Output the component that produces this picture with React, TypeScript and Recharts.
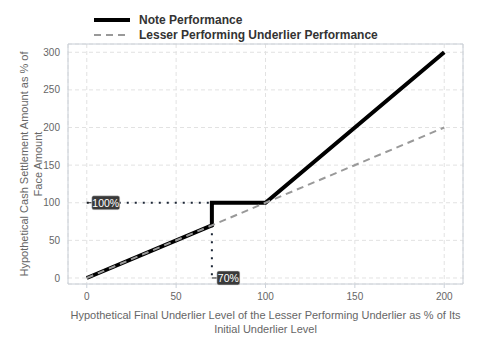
import React from "react";
import {
  LineChart,
  Line,
  XAxis,
  YAxis,
  CartesianGrid,
  ReferenceLine,
  ReferenceDot,
  ReferenceArea,
} from "recharts";

const noteX = [0, 70, 70, 100, 200];
const noteY = [0, 70, 100, 100, 300];
const lesserX = [0, 200];
const lesserY = [0, 200];
const xTicks = [0, 50, 100, 150, 200];
const yTicks = [0, 50, 100, 150, 200, 250, 300];
const barrier = 70;
const faceLevel = 100;
const seriesNames = ["Note Performance", "Lesser Performing Underlier Performance"];

const noteData = noteX.map((x, i) => ({ x, y: noteY[i] }));
const lesserData = lesserX.map((x, i) => ({ x, y: lesserY[i] }));

const FONT = "'Liberation Sans', Arial, sans-serif";
const X_DOMAIN: [number, number] = [-10.5, 210.5];
const Y_DOMAIN: [number, number] = [-8, 311];

function TagShape({ cx, cy, text, w }: any) {
  if (cx == null || cy == null) return null;
  return (
    <g>
      <line x1={cx} y1={cy} x2={cx + 5} y2={cy} stroke="#222" strokeWidth={1} />
      <rect x={cx + 5} y={cy - 7} width={w} height={14} rx={2} fill="#3a3a3a" stroke="#ddd" strokeWidth={0.5} />
      <text x={cx + 5 + w / 2} y={cy + 4} textAnchor="middle" fill="#fff" fontSize={10.5} fontFamily={FONT}>
        {text}
      </text>
    </g>
  );
}

function YTitle({ viewBox }: any) {
  const cx = 28;
  const cy = viewBox.y + viewBox.height / 2;
  return (
    <text transform={`rotate(-90, ${cx}, ${cy})`} x={cx} y={cy} textAnchor="middle" fill="#666" fontSize={11} fontFamily={FONT}>
      <tspan x={cx} dy={0}>Hypothetical Cash Settlement Amount as % of</tspan>
      <tspan x={cx} dy={14}>Face Amount</tspan>
    </text>
  );
}

function XTitle({ viewBox }: any) {
  const cx = viewBox.x + viewBox.width / 2;
  return (
    <text x={cx} y={319} textAnchor="middle" fill="#666" fontSize={11} fontFamily={FONT}>
      <tspan x={cx} dy={0}>Hypothetical Final Underlier Level of the Lesser Performing Underlier as % of Its</tspan>
      <tspan x={cx} dy={14}>Initial Underlier Level</tspan>
    </text>
  );
}

function LegendBox() {
  const row = (dashed: boolean, label: string) => (
    <div style={{ display: "flex", alignItems: "center", height: 15 }}>
      <svg width={45} height={8}>
        {dashed ? (
          <line x1={0} y1={4} x2={36} y2={4} stroke="#999" strokeWidth={2} strokeDasharray="7 5" />
        ) : (
          <line x1={0} y1={4} x2={36} y2={4} stroke="#000" strokeWidth={4} />
        )}
      </svg>
      <span style={{ fontFamily: FONT, fontWeight: "bold", fontSize: 12, color: "#333" }}>{label}</span>
    </div>
  );
  return (
    <div style={{ position: "absolute", left: 94, top: 12 }}>
      {row(false, seriesNames[0])}
      {row(true, seriesNames[1])}
    </div>
  );
}

export default function App() {
  return (
    <div style={{ position: "absolute", left: 0, top: 0, width: 480, height: 360, background: "#fff" }}>
      <LineChart width={480} height={360} margin={{ top: 44, right: 17, left: 0, bottom: 0 }}>
        <CartesianGrid stroke="#e2e2e2" strokeDasharray="4 3" />
        <XAxis
          dataKey="x"
          type="number"
          domain={X_DOMAIN}
          ticks={xTicks}
          allowDataOverflow
          height={76}
          axisLine={false}
          tickLine={{ stroke: "#ccd2da" }}
          tickSize={4}
          tickMargin={5}
          tick={{ fontSize: 10, fill: "#666", fontFamily: FONT }}
          label={{ content: XTitle }}
        />
        <YAxis
          dataKey="y"
          type="number"
          domain={Y_DOMAIN}
          ticks={yTicks}
          allowDataOverflow
          width={68}
          axisLine={false}
          tickLine={false}
          tickSize={4}
          tickMargin={4}
          tick={{ fontSize: 10, fill: "#666", fontFamily: FONT }}
          label={{ content: YTitle }}
        />
        <ReferenceArea x1={X_DOMAIN[0]} x2={X_DOMAIN[1]} y1={Y_DOMAIN[0]} y2={Y_DOMAIN[1]} fill="none" stroke="#c8ced6" strokeWidth={1} />
        <ReferenceLine
          segment={[{ x: 0, y: faceLevel }, { x: barrier, y: faceLevel }]}
          stroke="#1c2636"
          strokeWidth={2}
          strokeDasharray="2 6"
        />
        <ReferenceLine
          segment={[{ x: barrier, y: barrier }, { x: barrier, y: 0 }]}
          stroke="#1c2636"
          strokeWidth={2}
          strokeDasharray="2 6"
        />
        <Line
          data={noteData}
          dataKey="y"
          type="linear"
          stroke="#000"
          strokeWidth={4}
          dot={false}
          isAnimationActive={false}
        />
        <Line
          data={lesserData}
          dataKey="y"
          type="linear"
          stroke="#999"
          strokeWidth={2}
          strokeDasharray="7 5"
          dot={false}
          isAnimationActive={false}
        />
        <ReferenceDot x={0} y={faceLevel} r={0} shape={(p: any) => <TagShape {...p} text="100%" w={28} />} />
        <ReferenceDot x={barrier} y={0} r={0} shape={(p: any) => <TagShape {...p} text="70%" w={23} />} />
      </LineChart>
      <LegendBox />
    </div>
  );
}
